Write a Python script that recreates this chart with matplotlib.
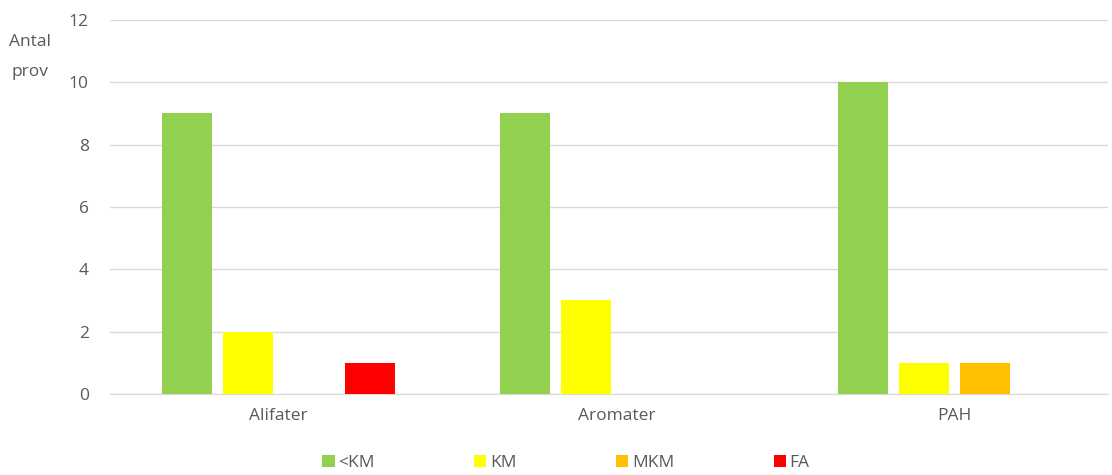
import matplotlib
matplotlib.use("Agg")
import matplotlib.pyplot as plt
import numpy as np
from matplotlib.patches import Patch

categories = ["Alifater", "Aromater", "PAH"]
series = ["<KM", "KM", "MKM", "FA"]
values = {
    "<KM": [9, 9, 10],
    "KM":  [2, 3, 1],
    "MKM": [0, 0, 1],
    "FA":  [1, 0, 0],
}
colors = {
    "<KM": "#92D050",
    "KM":  "#FFFF00",
    "MKM": "#FFC000",
    "FA":  "#FF0000",
}

TEXT = "#595959"
GRID = "#D9D9D9"
FS = 12.5
plt.rcParams["font.family"] = ["Open Sans", "DejaVu Sans"]

fig = plt.figure(figsize=(11.12, 4.75), dpi=100)
ax = fig.add_axes([0.0985, 0.1705, 0.898, 0.7875])

x = np.arange(len(categories))
step = 0.18
width = 0.148
for i, s in enumerate(series):
    ax.bar(x + (i - 1.5) * step, values[s], width=width, color=colors[s], zorder=3)

ax.set_xlim(-0.5, 2.454)
ax.set_ylim(0, 12)
ax.set_yticks(range(0, 13, 2))
ax.set_xticks(x)
ax.set_xticklabels(categories)
ax.grid(axis="y", color=GRID, linewidth=1, zorder=0)
for sp in ["top", "right", "left"]:
    ax.spines[sp].set_visible(False)
ax.spines["bottom"].set_color(GRID)
ax.tick_params(axis="both", length=0, labelsize=FS, colors=TEXT)
ax.tick_params(axis="y", pad=15)
ax.tick_params(axis="x", pad=10)

fig.text(0.027, 0.88, "Antal\nprov", ha="center", va="center", fontsize=FS,
         color=TEXT, linespacing=2.2)

handles = [Patch(facecolor=colors[s], label=s) for s in series]
fig.legend(handles=handles, loc="center", bbox_to_anchor=(0.509, 0.025), ncol=4,
           frameon=False, fontsize=FS, labelcolor=TEXT, handlelength=0.7,
           handleheight=0.7, handletextpad=0.2, columnspacing=5.75)

fig.savefig("out.png", dpi=100)
